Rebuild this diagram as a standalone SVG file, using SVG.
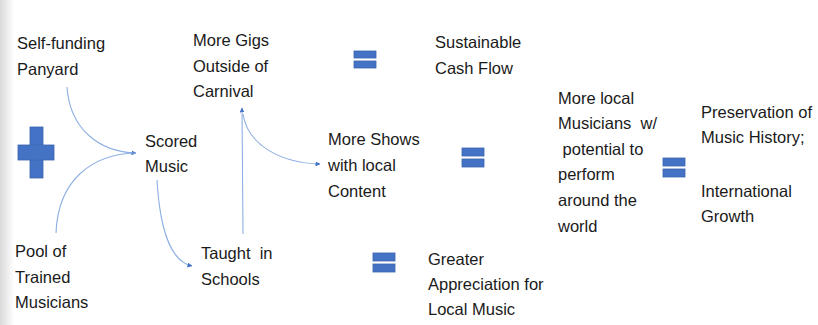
<svg xmlns="http://www.w3.org/2000/svg" width="818" height="325" viewBox="0 0 818 325" xml:space="preserve">
<defs>
<linearGradient id="edge" x1="0" y1="0" x2="1" y2="0">
<stop offset="0" stop-color="#d9d9d9"/>
<stop offset="1" stop-color="#ffffff"/>
</linearGradient>
<marker id="arr" viewBox="0 0 10 10" refX="9" refY="5" markerWidth="5" markerHeight="5" orient="auto" markerUnits="userSpaceOnUse">
<path d="M0,0 L10,5 L0,10 z" fill="#4472c4"/>
</marker>
</defs>
<style>
text{font-family:"Liberation Sans",Arial,sans-serif;font-size:16.5px;fill:#1a1a1a;white-space:pre}
.sym{fill:#4472c4;stroke:#3a64b0;stroke-width:0.8}
.con{fill:none;stroke:#8fb0e3;stroke-width:1.1}
</style>
<rect width="818" height="325" fill="#ffffff"/>
<rect x="0" y="0" width="14" height="325" fill="url(#edge)"/>

<g id="connectors">
<path class="con" d="M67 87 C70 130,100 152,136 153" marker-end="url(#arr)"/>
<path class="con" d="M56 233 C58 180,92 154,136 153"/>
<path class="con" d="M157 180 C160 232,172 262,192 266" marker-end="url(#arr)"/>
<path class="con" d="M243 234 L242 108" marker-end="url(#arr)"/>
<path class="con" d="M243 114 C248 146,282 163,320 164" marker-end="url(#arr)"/>
</g>

<g id="plus">
<rect class="sym" x="30" y="127" width="13" height="51"/>
<rect class="sym" x="18" y="145" width="36" height="15"/>
<rect x="30.4" y="145.4" width="12.2" height="14.2" fill="#4472c4"/>
</g>
<g id="eq1"><rect class="sym" x="354" y="51" width="22" height="7"/><rect class="sym" x="354" y="61" width="22" height="7"/></g>
<g id="eq2"><rect class="sym" x="462" y="148" width="22" height="8"/><rect class="sym" x="462" y="159" width="22" height="8"/></g>
<g id="eq3"><rect class="sym" x="373" y="253" width="22" height="8"/><rect class="sym" x="373" y="264" width="22" height="8"/></g>
<g id="eq4"><rect class="sym" x="663" y="158" width="22" height="8"/><rect class="sym" x="663" y="169" width="22" height="8"/></g>

<g id="selffunding"><text x="17" y="49">Self-funding</text><text x="17" y="75">Panyard</text></g>
<g id="pool"><text x="15" y="257">Pool of</text><text x="15" y="283">Trained</text><text x="15" y="308">Musicians</text></g>
<g id="scored"><text x="145" y="147">Scored</text><text x="145" y="172">Music</text></g>
<g id="taught"><text x="201" y="259">Taught  in</text><text x="201" y="285">Schools</text></g>
<g id="gigs"><text x="193" y="46">More Gigs</text><text x="193" y="72">Outside of</text><text x="193" y="97">Carnival</text></g>
<g id="shows"><text x="328" y="145">More Shows</text><text x="328" y="171">with local</text><text x="328" y="197">Content</text></g>
<g id="cash"><text x="435" y="48">Sustainable</text><text x="435" y="74">Cash Flow</text></g>
<g id="appreciation"><text x="428" y="265">Greater</text><text x="428" y="290">Appreciation for</text><text x="428" y="315">Local Music</text></g>
<g id="musicians"><text x="558" y="104">More local</text><text x="558" y="129">Musicians  w/</text><text x="558" y="155"> potential to</text><text x="558" y="180">perform</text><text x="558" y="206">around the</text><text x="558" y="232">world</text></g>
<g id="preservation"><text x="701" y="118">Preservation of</text><text x="701" y="143">Music History;</text><text x="701" y="197">International</text><text x="701" y="222">Growth</text></g>
</svg>
